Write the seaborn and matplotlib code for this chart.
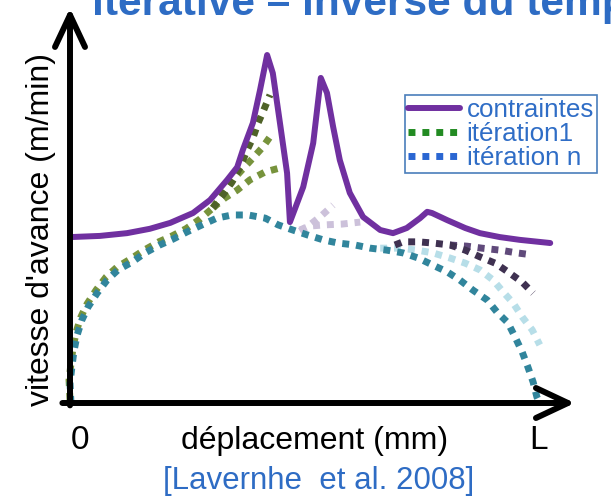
import matplotlib
matplotlib.use("Agg")
import matplotlib.pyplot as plt
import seaborn as sns
from matplotlib.lines import Line2D

# déplacement : 0 -> L (= 100), vitesse d'avance en unités relatives
L = 100

# courbe des contraintes (trait plein violet)
contraintes_x = [0, 6.3, 12.0, 16.8, 21.1, 25.9, 29.5, 33.1, 35.2, 36.4, 38.5, 40.0, 41.5,
                 42.7, 44.2, 45.7, 46.3, 49.1, 51.2, 52.8, 54.1, 55.4, 56.8, 58.9, 61.7,
                 65.3, 68.0, 70.9, 73.7, 75.2, 76.2, 79.4, 83.2, 86.3, 90.5, 94.7, 101.1]
contraintes_v = [42.0, 42.3, 43.0, 44.1, 45.6, 48.1, 51.4, 56.5, 59.7, 64.1, 70.9, 79.2, 88.1,
                 83.5, 70.9, 58.2, 45.8, 54.7, 65.8, 82.3, 78.5, 69.9, 61.5, 53.2, 47.1,
                 43.8, 43.0, 44.3, 46.8, 48.4, 48.1, 46.3, 44.3, 43.0, 42.0, 41.3, 40.5]

# itération 1 : tronc commun puis trois branches
it1_base_x = [0, -0.2, 0.2, 0.6, 1.3, 2.3, 3.6, 5.5, 7.6, 9.9, 12.8, 15.6, 18.7, 21.5, 24.4, 27.4, 30.1]
it1_base_v = [0.8, 5.8, 9.9, 13.7, 18.0, 21.8, 25.1, 28.6, 31.9, 34.4, 36.5, 38.7, 40.8, 42.3, 44.1, 46.6, 49.4]
it1_haut_x = [30.1, 32.2, 34.1, 35.8, 37.3, 38.5, 39.6, 40.8, 42.1]
it1_haut_v = [49.4, 52.7, 55.9, 59.7, 64.1, 67.1, 70.9, 74.2, 78.0]
it1_mil_x = [30.1, 33.7, 36.2, 38.5, 40.6, 42.7]
it1_mil_v = [49.4, 55.7, 59.0, 62.0, 64.8, 68.4]
it1_bas_x = [30.1, 32.6, 35.2, 37.9, 41.1, 44.2]
it1_bas_v = [49.4, 51.9, 53.9, 56.5, 58.5, 59.5]

# itérations intermédiaires
lilas_a_x = [48.4, 50.5, 53.1, 55.4]
lilas_a_v = [43.5, 45.1, 47.6, 50.1]
lilas_b_x = [48.4, 50.5, 53.7, 57.3, 61.1]
lilas_b_v = [43.8, 44.8, 45.1, 45.3, 45.8]
bleu_clair_x = [65.3, 69.5, 73.1, 76.4, 80.0, 83.2, 86.3, 89.1, 91.2, 93.3, 95.2, 97.3, 98.9]
bleu_clair_v = [39.2, 39.2, 38.7, 38.0, 36.7, 35.4, 33.7, 31.1, 28.1, 25.3, 21.8, 18.5, 14.7]
violet_fonce_x = [68.4, 70.1, 73.3, 76.4, 80.0, 83.2, 86.3, 89.5, 92.2, 95.2, 97.5]
violet_fonce_v = [40.0, 40.8, 40.8, 40.5, 40.0, 38.7, 37.0, 35.4, 33.2, 30.6, 27.8]
violet_gris_x = [80.0, 83.6, 86.7, 90.5, 94.1, 97.3]
violet_gris_v = [40.0, 39.7, 39.2, 38.7, 38.0, 37.5]

# itération n (bleu canard)
itn_x = [0.2, 0, 0.4, 0.8, 1.5, 2.5, 3.8, 5.7, 7.8, 10.1, 13.1, 15.8, 18.9, 21.7, 24.6, 27.8,
         30.9, 34.1, 37.5, 41.1, 43.8, 46.9, 50.1, 53.3, 56.4, 60.0, 63.2, 66.7, 70.1, 73.3,
         76.4, 79.4, 82.1, 84.8, 87.8, 89.9, 92.2, 93.7, 95.2, 96.4, 97.5, 98.3, 98.9]
itn_v = [0, 5.1, 9.1, 12.9, 17.2, 21.0, 24.3, 27.8, 31.1, 33.7, 35.7, 38.0, 40.0, 41.5, 43.3, 45.1,
         46.8, 47.6, 47.6, 46.8, 45.1, 43.8, 42.5, 41.3, 40.5, 40.0, 39.2, 38.7, 38.0, 36.7,
         34.9, 33.2, 31.1, 28.6, 26.1, 23.0, 20.3, 16.7, 12.9, 9.1, 5.3, 1.5, 0]

legend_labels = ["contraintes", "itération1", "itération n"]

W, H = 611, 504
sns.set_theme(style="white")
plt.rcParams["font.family"] = ["Liberation Sans", "DejaVu Sans"]

fig = plt.figure(figsize=(W / 100, H / 100), dpi=100)
ax = fig.add_axes([0, 0, 1, 1])
# origine à (70, 403) px ; 4.75 px par unité en x, 3.95 px par unité en y
ax.set_xlim(-70 / 4.75, (W - 70) / 4.75)
ax.set_ylim(-(H - 403) / 3.95, 403 / 3.95)
ax.axis("off")

dot = (0, (1, 1))
courbes = [
    (it1_base_x, it1_base_v, "#77933C"),
    (it1_mil_x, it1_mil_v, "#77933C"),
    (it1_bas_x, it1_bas_v, "#77933C"),
    (it1_haut_x, it1_haut_v, "#4F6228"),
    (lilas_a_x, lilas_a_v, "#CCC1DA"),
    (lilas_b_x, lilas_b_v, "#CCC1DA"),
    (bleu_clair_x, bleu_clair_v, "#B7DEE8"),
    (violet_gris_x, violet_gris_v, "#604A7B"),
    (violet_fonce_x, violet_fonce_v, "#3F3151"),
    (itn_x, itn_v, "#31859C"),
]
for xs, vs, c in courbes:
    sns.lineplot(x=xs, y=vs, sort=False, estimator=None, color=c, lw=5,
                 linestyle=dot, dash_capstyle="butt", ax=ax)

sns.lineplot(x=contraintes_x, y=contraintes_v, sort=False, estimator=None,
             color="#7030A0", lw=4.3, ax=ax)

# axes fléchés
arrow = dict(arrowstyle="->,head_length=2.3,head_width=1.08", lw=4.3, color="black",
             shrinkA=0, shrinkB=0, mutation_scale=10)
ax.annotate("", xy=(0, 100), xytext=(0, -0.6), arrowprops=arrow)
ax.annotate("", xy=(106.3, 0), xytext=(-1.6, 0), arrowprops=arrow)

handles = [
    Line2D([], [], color="#7030A0", lw=4.3),
    Line2D([], [], color="#228B22", lw=5, linestyle=dot, dash_capstyle="butt"),
    Line2D([], [], color="#2A66D2", lw=5, linestyle=dot, dash_capstyle="butt"),
]
leg = ax.legend(handles, legend_labels, loc="upper left",
                bbox_to_anchor=(405 / W, 1 - 95 / H), bbox_transform=fig.transFigure,
                fontsize=18.7, frameon=True, fancybox=False, framealpha=1,
                edgecolor="#4A7EBB", borderpad=0.12, borderaxespad=0,
                handlelength=2.0, handletextpad=0.25, labelspacing=0.0)
leg.get_frame().set_linewidth(1.2)
for t in leg.get_texts():
    t.set_color("#2F6DC6")

blue = "#2E6CC4"
fig.text(92 / W, 1 - 15 / H, "itérative – inverse du temps", color=blue,
         fontsize=30.6, fontweight="bold", va="baseline", ha="left")
fig.text(41 / W, 1 - 230 / H, "vitesse d'avance (m/min)", rotation=90,
         fontsize=23, va="center", ha="center", color="black")
fig.text(315 / W, 1 - 449 / H, "déplacement (mm)", fontsize=23,
         va="baseline", ha="center", color="black")
fig.text(80 / W, 1 - 449 / H, "0", fontsize=24, va="baseline", ha="center", color="black")
fig.text(539 / W, 1 - 449 / H, "L", fontsize=24, va="baseline", ha="center", color="black")
fig.text(319 / W, 1 - 489 / H, "[Lavernhe  et al. 2008]", fontsize=22.5,
         va="baseline", ha="center", color=blue)

fig.savefig("out.png", dpi=100)
